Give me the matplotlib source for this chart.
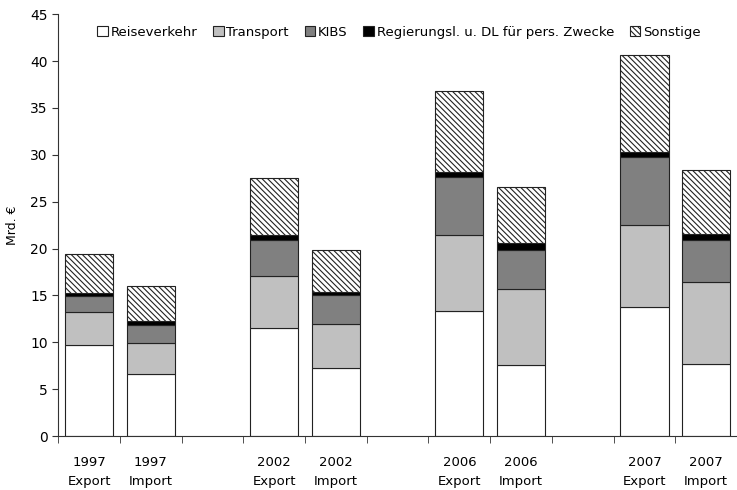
import matplotlib
matplotlib.use('Agg')
import matplotlib.pyplot as plt
import numpy as np

plt.rcParams['font.family'] = ['DejaVu Sans']
plt.rcParams['hatch.linewidth'] = 0.8

labels = ['1997\nExport', '1997\nImport', '2002\nExport', '2002\nImport',
          '2006\nExport', '2006\nImport', '2007\nExport', '2007\nImport']
series = ['Reiseverkehr', 'Transport', 'KIBS',
          'Regierungsl. u. DL für pers. Zwecke', 'Sonstige']

reise = [9.7, 6.6, 11.5, 7.3, 13.3, 7.6, 13.8, 7.7]
transport = [3.5, 3.3, 5.6, 4.7, 8.1, 8.1, 8.7, 8.7]
kibs = [1.7, 2.0, 3.8, 3.0, 6.2, 4.2, 7.3, 4.5]
regierung = [0.4, 0.4, 0.5, 0.4, 0.6, 0.7, 0.5, 0.7]
sonstige = [4.1, 3.7, 6.1, 4.4, 8.6, 6.0, 10.3, 6.8]

# slots 2, 5, 8 are empty gaps between years
pos = np.array([0, 1, 3, 4, 6, 7, 9, 10])

fig = plt.figure(figsize=(7.37, 4.9), dpi=100)
ax = fig.add_axes([0.079, 0.110, 0.921, 0.861])

styles = [dict(color='white'), dict(color='#c0c0c0'), dict(color='#808080'),
          dict(color='black'), dict(color='white', hatch='\\\\\\\\\\\\')]
bottom = np.zeros(len(pos))
for name, vals, st in zip(series, [reise, transport, kibs, regierung, sonstige], styles):
    ax.bar(pos, vals, width=0.78, bottom=bottom, edgecolor='#222222',
           linewidth=0.8, label=name, **st)
    bottom += np.array(vals)

ax.set_xlim(-0.5, 10.5)
ax.set_ylim(0, 45)
ax.set_yticks(range(0, 46, 5))
ax.set_xticks(pos)
ax.set_xticklabels(labels, fontsize=9.5, linespacing=1.6)
ax.set_xticks(np.arange(-0.5, 11, 1), minor=True)
ax.tick_params(axis='x', which='major', length=0, pad=14)
ax.tick_params(axis='x', which='minor', length=5, direction='out', color='#333333')
ax.tick_params(axis='y', length=4, direction='out', labelsize=10, color='#333333')
ax.spines['top'].set_visible(False)
ax.spines['right'].set_visible(False)
ax.spines['left'].set_color('#333333')
ax.spines['bottom'].set_color('#333333')
ax.set_ylabel('Mrd. €', fontsize=9, labelpad=8)

ax.legend(loc='upper left', bbox_to_anchor=(0.05, 0.985), ncol=5, frameon=False,
          fontsize=9.5, handlelength=0.8, handleheight=0.8, handletextpad=0.2,
          columnspacing=1.2, borderaxespad=0)

fig.savefig('out.png', dpi=100)
